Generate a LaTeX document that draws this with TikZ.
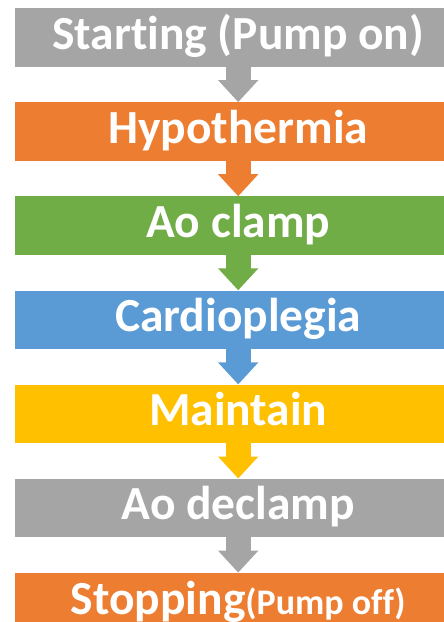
\documentclass[tikz,border=0pt]{standalone}
\usepackage{fontspec}
\setmainfont{Carlito}[Ligatures=NoCommon]
\usepackage{xcolor}
\definecolor{stepgray}{HTML}{A5A5A5}
\definecolor{steporange}{HTML}{ED7D31}
\definecolor{stepgreen}{HTML}{70AD47}
\definecolor{stepblue}{HTML}{5B9BD5}
\definecolor{stepgold}{HTML}{FFC000}
\usetikzlibrary{arrows.meta, positioning}
\tikzstyle{stage}=[rectangle, minimum width=446pt, minimum height=58.5pt, inner sep=0pt, text height=27pt, text depth=3pt, text=white, font=\fontsize{47.5}{50}\selectfont\bfseries]
\tikzstyle{flow}=[line width=25pt, -{Triangle[width=39pt, length=22pt]}]

\begin{document}
\begin{tikzpicture}[node distance=35.2pt]
		\useasboundingbox (0,0) rectangle (444pt,-622pt);
		\node(s1)[stage, fill=stepgray, below right=8pt and 15pt of {(0,0)}, anchor=north west]{Starting (Pump on)};
		\node(s2)[stage, fill=steporange, below=of s1]{Hypothermia};
		\node(s3)[stage, fill=stepgreen, below=of s2]{Ao clamp};
		\node(s4)[stage, fill=stepblue, below=of s3]{Cardioplegia};
		\node(s5)[stage, fill=stepgold, below=of s4]{Maintain};
		\node(s6)[stage, fill=stepgray, below=of s5]{Ao declamp};
		\node(s7)[stage, fill=steporange, below=of s6]{Stopping{\fontsize{36}{38}\selectfont(Pump off)}};

		\draw[flow, stepgray](s1)--(s2);
		\draw[flow, steporange](s2)--(s3);
		\draw[flow, stepgreen](s3)--(s4);
		\draw[flow, stepblue](s4)--(s5);
		\draw[flow, stepgold](s5)--(s6);
		\draw[flow, stepgray](s6)--(s7);
	\end{tikzpicture}
\end{document}
